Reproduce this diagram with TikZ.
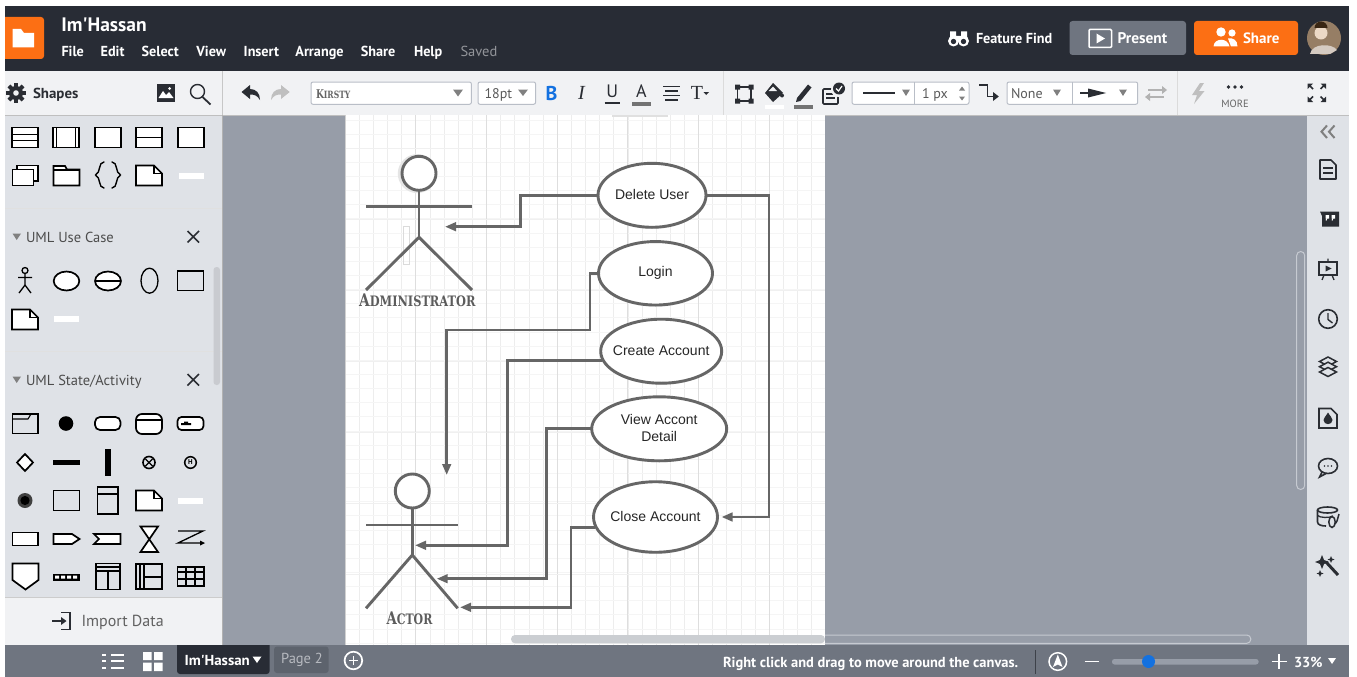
\documentclass[tikz,border=0pt]{standalone}
\usepackage{fontspec}
\setmainfont{Liberation Sans}
\newfontfamily\ui{PT Sans}
\newfontfamily\kir{DejaVu Serif}
\newfontfamily\srf{Liberation Serif}
\usetikzlibrary{arrows.meta,shapes.geometric,shadows}
\definecolor{barDark}{HTML}{282C35}
\definecolor{toolBg}{HTML}{F1F2F4}
\definecolor{sideBg}{HTML}{DFE2E7}
\definecolor{canvasBg}{HTML}{979DA8}
\definecolor{botBg}{HTML}{6F7580}
\definecolor{orangeUi}{HTML}{FC6F14}
\definecolor{diag}{HTML}{666666}
\definecolor{ink}{HTML}{2A2D33}
\definecolor{boxLine}{HTML}{B9BEC7}
\definecolor{blueUi}{HTML}{1371E0}
\newcommand\ucl[1]{\raisebox{1.3pt}{\makebox[0pt]{#1}}}
\newcommand\nrw[2][.98]{\scalebox{#1}[1]{#2}}
\tikzset{
 x=1pt,y=-1pt,
 uit/.style={inner sep=0pt,outer sep=0pt,anchor=west,text height=12pt,text depth=1pt,font=\ui\fontsize{14}{16}\selectfont},
 uic/.style={inner sep=0pt,outer sep=0pt,anchor=center,font=\ui\fontsize{14}{16}\selectfont},
 ic/.style={draw=black,line width=1.7pt,fill=white},
 icn/.style={draw=black,line width=1.7pt},
 tb/.style={draw=ink,line width=1.6pt},
 gridm/.style={draw=black!7,line width=0.6pt},
 gridM/.style={draw=black!13,line width=0.7pt},
 usecase/.style={ellipse,draw=diag,line width=2.9pt,fill=white,inner sep=0pt,outer sep=1pt,font=\fontsize{14}{17}\selectfont,text=black!85,align=center,
   drop shadow={shadow xshift=0pt,shadow yshift=-1.6pt,opacity=.18}},
 conn/.style={draw=diag,line width=2.9pt,-{Triangle[length=11pt,width=8.5pt]}},
 limb/.style={draw=diag,line width=2.9pt},
 actorhead/.style={circle,draw=diag,line width=2.9pt,fill=white,minimum size=34pt,inner sep=0pt,outer sep=0pt},
 actorlabel/.style={inner sep=0pt,text=diag!90!black,font=\kir\bfseries},
}
\newcommand\icnote[2]{\draw[ic] (#1-13,#2-10) -- (#1+5,#2-10) -- (#1+13,#2-2) -- (#1+13,#2+10) -- (#1-13,#2+10) -- cycle;
  \draw[icn,line width=1.1pt] (#1+5,#2-10) -- (#1+5,#2-2) -- (#1+13,#2-2);}
\newcommand\icbar[2]{\fill[white] (#1-12.5,#2-3) rectangle (#1+12.5,#2+3);}
\newcommand\icrect[2]{\draw[ic] (#1-13,#2-10) rectangle (#1+13,#2+10);}
\begin{document}
\begin{tikzpicture}
\useasboundingbox (0,0) rectangle (1357,677);
\fill[white] (0,0) rectangle (1357,677);
% regions
\fill[canvasBg] (222,115) rectangle (1307,645);
\fill[sideBg] (5,115) rectangle (222,597);
\fill[toolBg] (5,597) rectangle (222,645);
\fill[sideBg] (1306.5,115) rectangle (1349,645);
\fill[toolBg] (5,71) rectangle (1349,115);
\fill[barDark] (5,6) rectangle (1349,71);
\fill[botBg] (5,645) rectangle (1349,677);
\draw[black!25,line width=0.8pt] (5,115) -- (1349,115);
\draw[black!22,line width=0.8pt] (222.5,71) -- (222.5,115);
\draw[black!30,line width=0.8pt] (222,115) -- (222,645);
\draw[black!14,line width=0.8pt] (723.6,71) -- (723.6,115);
\draw[black!14,line width=0.8pt] (1177.4,71) -- (1177.4,115);
\draw[black!12,line width=0.8pt] (5,208) -- (222,208);
\draw[black!12,line width=0.8pt] (5,351.5) -- (222,351.5);
\draw[black!20,line width=0.8pt] (5,597) -- (222,597);
% page
\fill[white] (345.5,115) rectangle (825,645);
\foreach \i in {1,...,33} {\draw[gridm] ({345+14.14*\i},115) -- ({345+14.14*\i},645);}
\foreach \i in {0,...,37} {\draw[draw=black!4,line width=1pt] (345.5,{120+14.14*\i}) -- (825,{120+14.14*\i});}
\foreach \i in {1,...,6} {\draw[gridM] ({345+70.7*\i},115) -- ({345+70.7*\i},645);}
\foreach \i in {0,...,6} {\draw[draw=black!6,line width=1.5pt] (345.5,{148.3+71*\i}) -- (825,{148.3+71*\i});}
\draw[black!18,line width=0.7pt] (345.5,115) -- (345.5,645);
\fill[black!12] (612,115) rectangle (668,116.6);
\draw[black!14,line width=0.7pt] (403.3,226.7) rectangle (409,264.3);
% Administrator actor
\fill[black!10] (417.3,173.6) circle[radius=19.5];
\node[actorhead] (admHead) at (419,173.3) {};
\coordinate (admHip) at (419,237.3);
\coordinate (admArmL) at (366,206.3);
\coordinate (admArmR) at (472,206.3);
\coordinate (admFootL) at (366,290);
\coordinate (admFootR) at (472,290);
\draw[limb] (admHead.south) -- (admHip);
\draw[limb] (admArmL) -- (admArmR);
\draw[limb] (admFootL) -- (admHip) -- (admFootR);
\node[actorlabel] (admLabel) at (417.3,300.7) {\scalebox{0.79}[1]{\fontsize{17.4}{18}\selectfont A\fontsize{14.4}{18}\selectfont DMINISTRATOR}};
% Actor
\node[actorhead] (actHead) at (412.3,491) {};
\coordinate (actHip) at (412.3,555);
\coordinate (actArmL) at (366,525);
\coordinate (actArmR) at (457.7,525);
\coordinate (actFootL) at (366,608.3);
\coordinate (actFootR) at (457.7,608.3);
\draw[limb] (actHead.south) -- (actHip);
\draw[limb] (actArmL) -- (actArmR);
\draw[limb] (actFootL) -- (actHip) -- (actFootR);
\node[actorlabel] (actLabel) at (409.5,618.5) {\scalebox{0.76}[1]{\fontsize{17.4}{18}\selectfont A\fontsize{14.4}{18}\selectfont CTOR}};
% use cases
\node[usecase,minimum width=108pt,minimum height=64pt] (del) at (652,195.3) {\ucl{Delete User}};
\node[usecase,minimum width=114pt,minimum height=63.5pt] (log) at (655.5,273.3) {\raisebox{.5pt}{\makebox[0pt]{Login}}};
\node[usecase,minimum width=121pt,minimum height=64pt] (cre) at (661.2,351.2) {\ucl{Create Account}};
\node[usecase,minimum width=135pt,minimum height=64pt] (vie) at (659.2,428.8) {\ucl{View Accont}\\\ucl{Detail}};
\node[usecase,minimum width=124pt,minimum height=70.5pt] (clo) at (655.5,517) {\ucl{Close Account}};
% connector way-points
\coordinate (a1) at (520.7,210);
\coordinate (admIn) at (445,226.7);
\coordinate (rt) at (769,356);
\coordinate (l1) at (590,330);
\coordinate (actTop) at (446.7,475);
\coordinate (c1) at (507.3,450);
\coordinate (actBody) at (415,545.3);
\coordinate (v1) at (546.3,500);
\coordinate (actLegA) at (436.7,578.7);
\coordinate (k1) at (571,570);
\coordinate (actLegB) at (460,607.3);
\draw[conn] (del.west) -| (a1) |- (admIn);
\draw[conn,shorten >=3pt] (del.east) -| (rt) |- (clo.east);
\draw[conn] (log.west) -| (l1) -| (actTop);
\draw[conn] (cre.189) -| (c1) |- (actBody);
\draw[conn] (vie.west) -| (v1) |- (actLegA);
\draw[conn] (clo.190) -| (k1) |- (actLegB);
% scrollbars
\fill[black!9!sideBg,rounded corners=4pt] (511,635) rectangle (825,643.3);
\draw[sideBg!65!canvasBg,line width=1pt,rounded corners=4pt] (825,635) -- (1250.8,635) -- (1250.8,643.3) -- (825,643.3);
\draw[sideBg!65!canvasBg,line width=1pt,rounded corners=4pt] (1296.7,251.5) rectangle (1304.7,489.5);
\fill[black!10!sideBg,rounded corners=3pt] (213.5,267) rectangle (220,385);
% top bar
\fill[orangeUi,rounded corners=3pt] (0,17) rectangle (44,59);
\fill[white] (0,0) rectangle (5,71);
\fill[white] (12.5,29) -- (21,29) -- (24,33) -- (34,33) -- (34,47.5) -- (12.5,47.5) -- cycle;
\node[uit,text=white,font=\ui\bfseries\fontsize{19.5}{20}\selectfont] (title) at (61.4,25.7) {Im'Hassan};
\tikzset{menu/.style={uit,text=white,font=\ui\bfseries\fontsize{14.5}{16}\selectfont}}
\node[menu] (mFile) at (61.5,51) {\nrw{File}};
\node[menu] (mEdit) at (100.6,51) {\nrw{Edit}};
\node[menu] (mSel) at (141.6,51) {\nrw{Select}};
\node[menu] (mView) at (196.4,51) {\nrw{View}};
\node[menu] (mIns) at (243.7,51) {\nrw{Insert}};
\node[menu] (mArr) at (295.4,51) {\nrw{Arrange}};
\node[menu] (mShare) at (360.8,51) {\nrw{Share}};
\node[menu] (mHelp) at (414,51) {\nrw{Help}};
\node[uit,text=white!50!barDark,font=\ui\fontsize{14.5}{16}\selectfont] (mSaved) at (460.5,51) {Saved};
% feature find
\fill[white] (953.5,41) circle[radius=5.5];
\fill[white] (963.5,41) circle[radius=5.5];
\fill[white] (950,31.5) rectangle (956,38) (961,31.5) rectangle (967,38) (956,36) rectangle (961,41);
\fill[barDark] (953.5,41.5) circle[radius=2.7] (963.5,41.5) circle[radius=2.7];
\node[uit,text=white,font=\ui\bfseries\fontsize{14.5}{16}\selectfont] (ffind) at (976,38) {\nrw{Feature Find}};
\fill[botBg,rounded corners=3pt] (1069.5,21) rectangle (1186,55);
\draw[white,line width=1.5pt,rounded corners=1pt] (1089,29.5) rectangle (1111.5,47.5);
\fill[white] (1096.5,33.5) -- (1105,38.5) -- (1096.5,43.5) -- cycle;
\node[uit,text=white,font=\ui\bfseries\fontsize{15.4}{16}\selectfont] (present) at (1117.5,38) {Present};
\fill[orangeUi,rounded corners=3pt] (1194,21) rectangle (1298,55);
\fill[white] (1221,32) circle[radius=4.7] (1232,33) circle[radius=3.6];
\fill[white] (1213.5,46.5) .. controls (1214,37.5) and (1228,37.5) .. (1229.5,46.5) -- cycle;
\fill[white] (1228,38.5) .. controls (1233,37.5) and (1237.5,40) .. (1237.5,46.5) -- (1231,46.5) -- cycle;
\node[uit,text=white,font=\ui\bfseries\fontsize{15}{16}\selectfont] (share) at (1243,38) {Share};
% avatar
\fill[black!45!brown!70!white] (1324,38) circle[radius=17];
\fill[white!70!brown] (1321,33) circle[radius=6.5];
\fill[black!70!brown] (1314.5,28) arc[start angle=180,end angle=360,radius=6.5] -- cycle;
\fill[black!15!white!85!brown] (1310,54) .. controls (1312,43) and (1332,43) .. (1337,50) -- (1330,54) -- cycle;
% toolbar left
\fill[ink] (16,93) circle[radius=7];
\foreach \a in {0,45,...,315} {\fill[ink,shift={(16,93)},rotate=\a] (-2,-10) rectangle (2,-6);}
\fill[toolBg] (16,93) circle[radius=2.8];
\node[uit,text=ink,font=\ui\bfseries\fontsize{14.5}{16}\selectfont] (shapes) at (33,93.3) {\nrw[1.03]{Shapes}};
\fill[ink] (157,84) rectangle (175,102);
\fill[white] (158.5,98) -- (163,91) -- (166,95) -- (169,92) -- (173.5,98) -- cycle;
\fill[white] (169.5,88.5) circle[radius=1.5];
\draw[tb,line width=1.4pt] (197.5,91.5) circle[radius=7];
\draw[tb,line width=1.8pt] (202.5,97) -- (210.5,104.5);
\fill[ink] (241.5,92) -- (250,85) -- (250,89) .. controls (256,89) and (260,93) .. (260,100) .. controls (257,95) and (254,94.5) .. (250,94.5) -- (250,99) -- cycle;
\fill[black!25] (289.7,92) -- (281,85) -- (281,89) .. controls (275,89) and (271,93) .. (271,100) .. controls (274,95) and (277,94.5) .. (281,94.5) -- (281,99) -- cycle;
% font boxes
\tikzset{fieldbox/.style={draw=boxLine,line width=1pt,fill=white,rounded corners=2pt}}
\draw[fieldbox] (311,82) rectangle (471.4,104.3);
\node[uit,text=black!60,font=\kir\bfseries] (fontName) at (316,93.5) {\scalebox{0.76}[1]{\fontsize{12}{14}\selectfont K\fontsize{10}{14}\selectfont IRSTY}};
\fill[black!50] (453,89.5) -- (463,89.5) -- (458,96.5) -- cycle;
\draw[fieldbox] (478,82) rectangle (535.6,104.3);
\node[uit,text=black!65,font=\ui\fontsize{14}{16}\selectfont] (fontSize) at (484.5,93.5) {18pt};
\fill[black!50] (518,89.5) -- (528,89.5) -- (523,96) -- cycle;
\node[uic,text=blueUi,font=\ui\bfseries\fontsize{20}{20}\selectfont] (bBtn) at (551.6,93) {B};
\node[uic,text=ink,font=\srf\itshape\fontsize{20}{20}\selectfont] (iBtn) at (581.5,93) {I};
\node[uic,text=ink,font=\ui\fontsize{18}{20}\selectfont] (uBtn) at (612.3,91.5) {U};
\draw[tb,line width=1.4pt] (604.5,103) -- (620,103);
\node[uic,text=ink,font=\ui\fontsize{18}{20}\selectfont] (aBtn) at (641.5,91.5) {A};
\fill[black!55] (632,102) rectangle (651,106);
\draw[tb,line width=1.4pt] (663,86.5) -- (680,86.5) (665,91) -- (678,91) (663,95.5) -- (680,95.5) (665,100) -- (678,100);
\node[uic,text=ink,font=\srf\fontsize{20}{20}\selectfont] (tBtn) at (697,93) {T};
\fill[ink] (703.5,92) -- (709,92) -- (706.2,95) -- cycle;
% shape style icons
\draw[tb] (737.5,87) rectangle (751,101);
\fill[ink] (735,84.5) rectangle (740,89.5) (748.5,84.5) rectangle (753.5,89.5) (735,98.5) rectangle (740,103.5) (748.5,98.5) rectangle (753.5,103.5);
\fill[ink] (773,83) -- (783,93) -- (773,102) -- (765,93) -- cycle;
\fill[toolBg] (773,86.5) -- (777,91) -- (768.5,91) -- cycle;
\fill[ink] (782,95.5) circle[radius=2];
\fill[white] (765,104.5) rectangle (784,108.5);
\fill[ink] (797,98) -- (808,84.5) -- (811.5,87.5) -- (800.5,101) -- (796,102) -- cycle;
\fill[black!55] (794,104.5) rectangle (813,109);
\draw[tb,line width=1.6pt,rounded corners=1pt] (823,89) rectangle (838,104);
\draw[tb,line width=1.1pt] (826,94) -- (835,94) (826,98) -- (835,98);
\fill[toolBg] (838.5,89.5) circle[radius=7.5];
\fill[ink] (839,88.5) circle[radius=6];
\draw[white,line width=1.2pt] (836,88.5) -- (838.5,91) -- (842,86);
\draw[fieldbox] (852,82) rectangle (969,104.3);
\draw[boxLine,line width=1pt] (914.5,82) -- (914.5,104.3);
\draw[tb,line width=1.3pt] (863,93) -- (895,93);
\fill[black!50] (902,89.5) -- (910,89.5) -- (906,96) -- cycle;
\node[uit,text=black!65,font=\ui\fontsize{14}{16}\selectfont] (pxSize) at (922,93.5) {1 px};
\fill[black!50] (959,90.5) -- (965,90.5) -- (962,86.5) -- cycle (959,96.5) -- (965,96.5) -- (962,100.5) -- cycle;
\draw[tb,line width=1.9pt] (979,85) -- (987.5,85) -- (987.5,96.5) -- (993,96.5);
\fill[ink] (993,92) -- (998.8,96.5) -- (993,101) -- cycle;
\draw[fieldbox] (1007,82) rectangle (1137.7,104.3);
\draw[boxLine,line width=1pt] (1072,82) -- (1072,104.3);
\node[uit,text=black!65,font=\ui\fontsize{14}{16}\selectfont] (noneLbl) at (1011,93.5) {None};
\fill[black!50] (1053,89.5) -- (1061,89.5) -- (1057,96) -- cycle;
\draw[tb,line width=1.3pt] (1080,93) -- (1093,93);
\fill[ink] (1088,88.5) -- (1106,93) -- (1088,97.5) -- cycle;
\fill[black!50] (1119,89.5) -- (1127,89.5) -- (1123,96) -- cycle;
\draw[black!30,line width=1.4pt] (1148,90) -- (1164,90) (1148,97) -- (1164,97);
\fill[black!30] (1162,86) -- (1167,90) -- (1162,94) -- cycle (1150,93) -- (1145,97) -- (1150,101) -- cycle;
\fill[black!25] (1200,83) -- (1192,95) -- (1197,95) -- (1194,104) -- (1204.5,91) -- (1199,91) -- (1204,83) -- cycle;
\fill[ink] (1228.5,87) circle[radius=1.8] (1235,87) circle[radius=1.8] (1241.5,87) circle[radius=1.8];
\node[uic,text=black!60,font=\ui\fontsize{10.5}{12}\selectfont] (moreLbl) at (1235,104) {MORE};
\draw[tb,line width=1.5pt] (1308.5,84.5) -- (1313,89) (1325,84.5) -- (1320.5,89) (1308.5,101) -- (1313,96.5) (1325,101) -- (1320.5,96.5);
\fill[ink] (1307.5,83.5) -- (1313,83.5) -- (1307.5,89) -- cycle (1326,83.5) -- (1320.5,83.5) -- (1326,89) -- cycle (1307.5,102) -- (1313,102) -- (1307.5,96.5) -- cycle (1326,102) -- (1320.5,102) -- (1326,96.5) -- cycle;
% sidebar icons row 1
\icrect{25}{137.5}\draw[icn,line width=1.2pt] (12,134.5) -- (38,134.5) (12,140.5) -- (38,140.5);
\icrect{66}{137.5}\draw[icn,line width=1.2pt] (56.5,127.5) -- (56.5,147.5) (75.5,127.5) -- (75.5,147.5);
\icrect{108}{137.5}
\icrect{149}{137.5}\draw[icn,line width=1.2pt] (136,137.5) -- (162,137.5);
\icrect{191}{137.5}
% row 2
\draw[ic] (17,165.5) rectangle (38,181);
\draw[ic] (12.5,169.5) rectangle (33.5,185.5);
\draw[ic] (53.5,166) -- (65,166) -- (67,169.5) -- (79.5,169.5) -- (79.5,185.5) -- (53.5,185.5) -- cycle;
\draw[icn,line width=1.2pt] (53.5,170) -- (79.5,170);
\draw[icn,line width=1.4pt,line cap=round] (104,162) .. controls (98,162) and (101,173) .. (95.5,175) .. controls (101,177) and (98,188) .. (104,188);
\draw[icn,line width=1.4pt,line cap=round] (112,162) .. controls (118,162) and (115,173) .. (120.5,175) .. controls (115,177) and (118,188) .. (112,188);
\icnote{149}{175.5}
\icbar{191}{175.5}
% use case header
\fill[black!50] (12.5,233.5) -- (21,233.5) -- (16.7,240) -- cycle;
\node[uit,text=black!70,font=\ui\fontsize{14.5}{16}\selectfont] (ucHead) at (26,236.5) {UML Use Case};
\draw[ink,line width=1.7pt] (187.5,231) -- (199,242.5) (199,231) -- (187.5,242.5);
\draw[icn,line width=1.3pt] (25,270.5) circle[radius=3];
\draw[icn,line width=1.3pt] (25,273.5) -- (25,285) (18,277.5) -- (32,277.5) (19,293) -- (25,285) -- (31,293);
\draw[ic] (66.5,281) ellipse[x radius=12.8,y radius=9.5];
\draw[ic] (108,281) ellipse[x radius=13,y radius=9.5];
\draw[icn,line width=1.2pt] (95,281) -- (121,281);
\draw[icn,line width=1.3pt] (149.5,280.7) ellipse[x radius=8.5,y radius=12.5];
\draw[icn,line width=1.3pt] (177.5,271) rectangle (203.5,290.5);
\icnote{25}{319.5}
\icbar{66.5}{319}
% state header
\fill[black!50] (12.5,376.5) -- (21,376.5) -- (16.7,383) -- cycle;
\node[uit,text=black!70,font=\ui\fontsize{14.5}{16}\selectfont] (stHead) at (26,379.5) {UML State/Activity};
\draw[ink,line width=1.7pt] (187.5,374) -- (199,385.5) (199,374) -- (187.5,385.5);
% state row 1
\draw[icn,line width=1.3pt] (12.5,414) rectangle (38,433.5);
\draw[icn,line width=1.1pt] (12.5,419) -- (28,419) -- (31,414);
\fill (66,423.5) circle[radius=7.3];
\draw[ic,rounded corners=5pt] (95,417) rectangle (120.5,430);
\draw[ic,rounded corners=6pt] (136,414) rectangle (162,434);
\draw[icn,line width=1.2pt] (136,420) -- (162,420);
\draw[ic,rounded corners=4pt] (177.5,417) rectangle (203.5,430);
\fill (184,421.5) rectangle (188,425) (181,423) rectangle (191,425);
% state row 2
\draw[ic] (25,454) -- (33,462.5) -- (25,471) -- (17,462.5) -- cycle;
\fill (52.5,459.5) rectangle (80,465);
\fill (104.5,448.5) rectangle (110.5,475.5);
\draw[icn,line width=1.6pt] (149,462.5) circle[radius=6];
\draw[icn,line width=1.3pt] (145.5,459) -- (152.5,466) (152.5,459) -- (145.5,466);
\draw[icn,line width=1.5pt] (190.5,462.5) circle[radius=5.8];
\node[uic,text=black,font=\ui\bfseries\fontsize{7}{7}\selectfont] (hMark) at (190.5,462.5) {H};
% state row 3
\fill[black!75] (25,500.5) circle[radius=7.5];
\fill[black] (25,500.5) circle[radius=4.6];
\draw[icn,line width=1.3pt] (53.5,490.5) rectangle (79.5,510.5);
\draw[icn,line width=1.3pt] (97.5,487) rectangle (118,514);
\draw[icn,line width=1.1pt] (97.5,494) -- (118,494);
\icnote{149}{500.5}
\icbar{190.5}{500.5}
% state row 4
\draw[ic] (12.5,532.5) rectangle (38,545.5);
\draw[ic] (53.5,534) -- (72,534) -- (79.5,539) -- (72,544) -- (53.5,544) -- cycle;
\draw[ic] (94,534) -- (120.5,534) -- (120.5,544) -- (94,544) -- (99,539) -- cycle;
\draw[ic] (140.5,526.5) -- (158,526.5) -- (140.5,552) -- (158,552) -- cycle;
\draw[icn,line width=1.3pt] (178,531) -- (203,531) -- (178,543) -- (203,543);
\fill (200,540.5) -- (205,543) -- (200,545.5) -- cycle;
% state row 5
\draw[ic] (12.5,563.5) -- (38.5,563.5) -- (38.5,580) -- (25.5,589.5) -- (12.5,580) -- cycle;
\fill (52.5,573.5) rectangle (80,580.5);
\fill[white] (55,575.5) rectangle (59,578.5) (61,575.5) rectangle (65,578.5) (67,575.5) rectangle (71,578.5) (73,575.5) rectangle (77,578.5);
\draw[icn,line width=1.3pt] (96,563.5) rectangle (120,589.5);
\draw[icn,line width=1.1pt] (96,567) -- (120,567) (96,571) -- (120,571) (108,571) -- (108,589.5);
\draw[icn,line width=1.3pt] (136,564) rectangle (162,589);
\draw[icn,line width=1.1pt] (140,564) -- (140,589) (144,564) -- (144,589) (144,577) -- (162,577);
\draw[icn,line width=1.3pt] (177.5,567) rectangle (204,586);
\draw[icn,line width=1.1pt] (177.5,572) -- (204,572) (177.5,579) -- (204,579) (186,567) -- (186,586) (195,567) -- (195,586);
% import
\draw[ink,line width=1.4pt] (61,612.5) -- (70,612.5) -- (70,629.5) -- (61,629.5);
\draw[ink,line width=1.4pt] (52,621) -- (65,621);
\fill[ink] (61,617) -- (66.5,621) -- (61,625) -- cycle;
\node[uit,text=black!62,font=\ui\fontsize{16}{18}\selectfont] (importLbl) at (81.5,621) {Import Data};
% bottom bar
\draw[white,line width=2.2pt] (111,655) -- (123.5,655) (111,661) -- (123.5,661) (111,668) -- (123.5,668) (102,655) -- (106,655) (102,661) -- (106,661) (102,668) -- (106,668);
\fill[white] (143,652) rectangle (151.5,660) (154,652) rectangle (162.5,660) (143,662.5) rectangle (151.5,671) (154,662.5) rectangle (162.5,671);
\fill[barDark] (177,645) -- (269.7,645) [rounded corners=3pt] -- (269.7,674) -- (177,674) [sharp corners] -- cycle;
\node[uit,text=white,font=\ui\bfseries\fontsize{14.5}{16}\selectfont] (tab1) at (184.5,660) {\nrw[1.03]{Im'Hassan}};
\fill[white] (252.5,656.5) -- (261.5,656.5) -- (257,663) -- cycle;
\fill[botBg!75!barDark,rounded corners=3pt] (274,646.5) rectangle (328.7,673);
\node[uic,text=white!50!botBg,font=\ui\fontsize{14.5}{16}\selectfont] (tab2) at (302,660) {Page 2};
\draw[white,line width=1.7pt] (353.4,660.5) circle[radius=8.8];
\draw[white,line width=1.5pt] (349,660.5) -- (358,660.5) (353.4,656) -- (353.4,665);
\node[uit,text=white,font=\ui\bfseries\fontsize{14.5}{16}\selectfont] (hint) at (723,662) {\nrw[.995]{Right click and drag to move around the canvas.}};
\draw[barDark!90,line width=1pt] (1035.3,650) -- (1035.3,674);
\draw[white,line width=1.5pt] (1057.8,661.5) circle[radius=8.8];
\fill[white] (1057.8,654.5) -- (1062.5,667) -- (1057.8,664.5) -- (1053,667) -- cycle;
\draw[white,line width=1.7pt] (1084.6,661.5) -- (1099,661.5);
\fill[canvasBg,rounded corners=2.5pt] (1112,659) rectangle (1258.6,664.5);
\fill[blueUi] (1148.5,661.5) circle[radius=6.5];
\draw[white,line width=1.8pt] (1271.5,661.5) -- (1286.6,661.5) (1279,654) -- (1279,669);
\node[uit,text=white,font=\ui\bfseries\fontsize{14.5}{16}\selectfont] (zoomPct) at (1294,662) {\nrw[1]{33\%}};
\fill[white] (1328,658) -- (1336,658) -- (1332,664) -- cycle;
% right panel icons
\draw[black!50,line width=2pt] (1327,125.5) -- (1321.5,131.7) -- (1327,138) (1334.5,125.5) -- (1329,131.7) -- (1334.5,138);
\draw[tb,line join=round] (1320,160) -- (1331,160) -- (1336,165) -- (1336,179) -- (1320,179) -- cycle;
\draw[tb,line width=1.1pt] (1323,168) -- (1333,168) (1323,173) -- (1333,173);
\fill[ink] (1320,211.5) -- (1339,211.5) -- (1339,226.5) -- (1322,226.5) -- (1322,216) -- cycle;
\fill[white] (1325.5,215) rectangle (1329,218.5) (1331.5,215) rectangle (1335,218.5);
\draw[white,line width=1pt] (1327,218) -- (1326,220.5) (1333,218) -- (1332,220.5);
\draw[tb] (1319,262) rectangle (1337,275);
\draw[tb,line width=1.3pt] (1328,258.5) -- (1328,262) (1324,275) -- (1322,280) (1332,275) -- (1334,280);
\fill[ink] (1325.5,265.5) -- (1331.5,268.5) -- (1325.5,271.5) -- cycle;
\draw[tb] (1328,319) circle[radius=9.3];
\draw[tb,line width=1.4pt] (1328,313) -- (1328,319.5) -- (1332.5,323);
\foreach \yy in {361.5,366.7,372}{\draw[tb,fill=sideBg,line width=1.5pt] (1328,\yy-4.5) -- (1336.5,\yy) -- (1328,\yy+4.5) -- (1319.5,\yy) -- cycle;}
\draw[tb] (1319,408.5) -- (1331,408.5) -- (1337,414.5) -- (1337,428) -- (1319,428) -- cycle;
\fill[ink] (1328,412.5) .. controls (1330,416) and (1332.5,418) .. (1332.5,420) .. controls (1332.5,425.5) and (1323.5,425.5) .. (1323.5,420) .. controls (1323.5,418) and (1326,416) .. (1328,412.5) -- cycle;
\draw[tb] (1328,466) ellipse[x radius=9.5,y radius=7.5];
\draw[tb] (1322,472) -- (1319.5,477) -- (1326,473.5);
\fill[ink] (1324.5,466) circle[radius=0.9] (1328,466) circle[radius=0.9] (1331.5,466) circle[radius=0.9];
\draw[tb] (1317.5,510) -- (1317.5,522) .. controls (1317.5,525) and (1322,526) .. (1326,526);
\draw[tb] (1327.5,510) ellipse[x radius=10,y radius=3];
\draw[tb,line width=1.3pt] (1317.5,515.5) .. controls (1320,518) and (1330,518) .. (1333,516);
\draw[tb,line width=1.5pt] (1332,522) ellipse[x radius=3.2,y radius=5.5];
\draw[tb,line width=1.5pt] (1335,524) -- (1337,521) -- (1339,514);
\draw[tb,line width=3pt] (1326,562) -- (1338,575);
\fill[ink] (1322,555) -- (1324,560) -- (1329,562) -- (1324,564) -- (1322,569) -- (1320,564) -- (1315,562) -- (1320,560) -- cycle;
\fill[ink] (1331,556) -- (1332,558.5) -- (1334.5,559.5) -- (1332,560.5) -- (1331,563) -- (1330,560.5) -- (1327.5,559.5) -- (1330,558.5) -- cycle;
\fill[ink] (1320,570) -- (1321,572.5) -- (1323.5,573.5) -- (1321,574.5) -- (1320,577) -- (1319,574.5) -- (1316.5,573.5) -- (1319,572.5) -- cycle;
\end{tikzpicture}
\end{document}
